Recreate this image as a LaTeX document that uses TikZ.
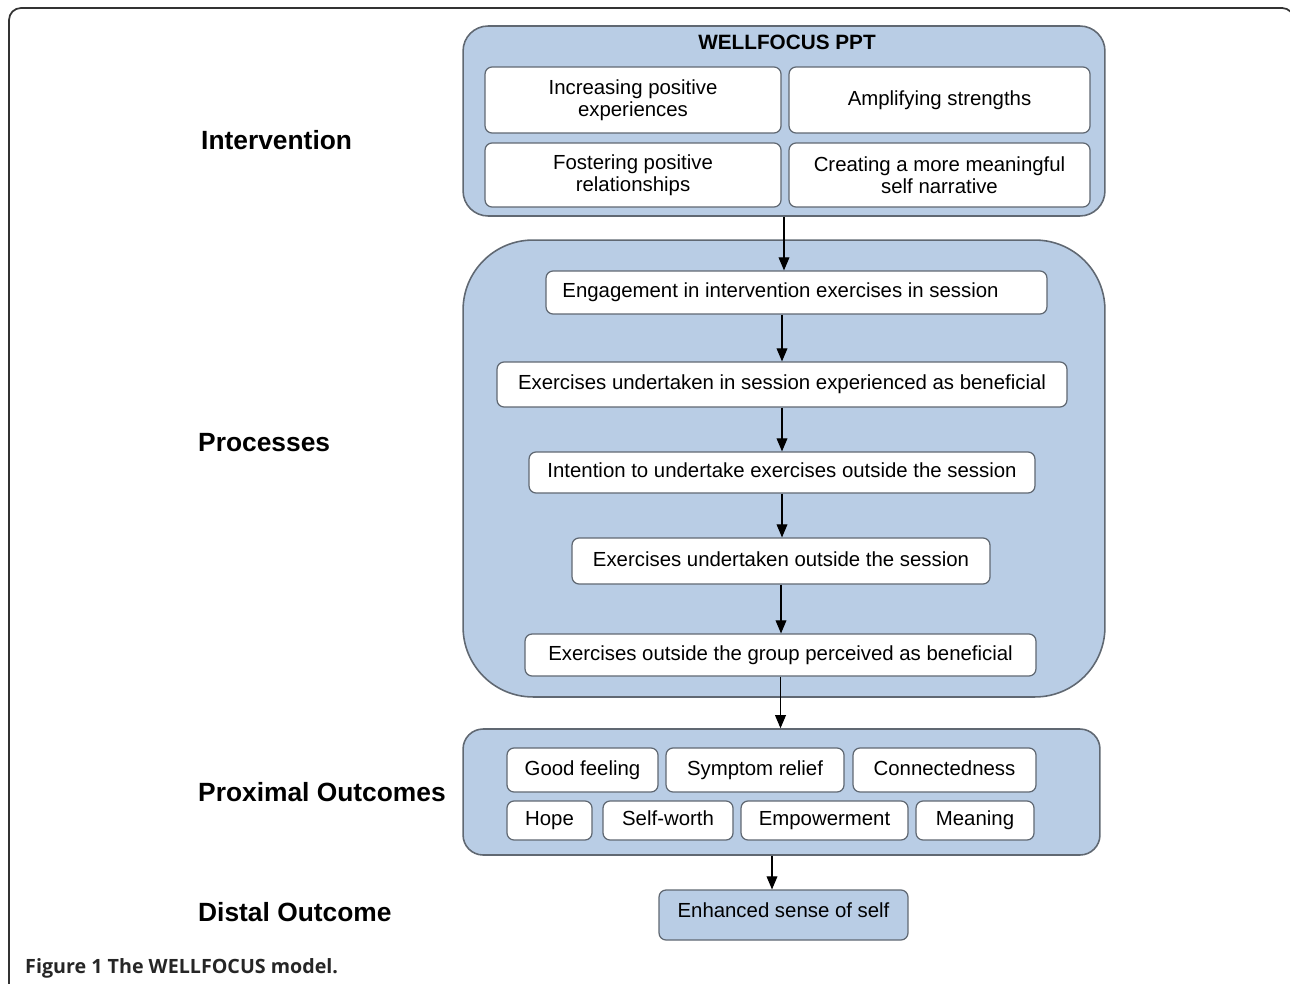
\documentclass[tikz,border=0pt]{standalone}
\usepackage{fontspec}
\setmainfont{Liberation Sans}
\newfontfamily\capfont{Open Sans}
\usetikzlibrary{shapes}
\usetikzlibrary{arrows}
\definecolor{grpblue}{RGB}{185,205,229}
\definecolor{edgegray}{RGB}{96,104,114}

\begin{document}
\begin{tikzpicture}[x=0.02cm,y=-0.02cm]
			\tikzstyle{grp}=[rectangle,draw=edgegray,fill=grpblue,line width=0.9pt]
			\tikzstyle{item}=[rectangle,rounded corners=0.14cm,draw=edgegray,fill=white,line width=0.7pt,align=center,inner sep=0pt,font=\fontsize{11.6}{12.5}\selectfont]
			\tikzstyle{one}=[item,text height=8.6pt,text depth=2.6pt]
			\tikzstyle{lbl}=[anchor=west,font=\bfseries\fontsize{15}{18}\selectfont]
			\tikzstyle{flow}=[-triangle 45,line width=0.7pt]
			
			\useasboundingbox (0,0) rectangle (1290,983);
			\draw[rounded corners=0.24cm,line width=1pt,draw=black!80] (9,8) rectangle (1294,1020);
			
			% row labels
			\node[lbl] (lint) at (195,140) {Intervention};
			\node[lbl] (lpro) at (192,443) {Processes};
			\node[lbl] (lprx) at (192,792) {Proximal Outcomes};
			\node[lbl] (ldis) at (192,912) {Distal Outcome};
			
			% intervention
			\node[grp,rounded corners=0.5cm,minimum width=12.84cm,minimum height=3.8cm] (intv) at (784,121) {};
			\node[font=\bfseries\fontsize{11.8}{14}\selectfont] (ttl) at (787,42) {WELLFOCUS PPT};
			\node[item,minimum width=5.92cm,minimum height=1.32cm] (incr) at (633,100) {Increasing positive\\experiences};
			\node[one,minimum width=6.02cm,minimum height=1.32cm] (ampl) at (939.5,100) {Amplifying strengths};
			\node[item,minimum width=5.92cm,minimum height=1.28cm] (fost) at (633,175) {Fostering positive\\relationships};
			\node[item,minimum width=6.02cm,minimum height=1.28cm] (crea) at (939.5,175) {Creating a more meaningful\\self narrative};
			
			% processes
			\node[grp,rounded corners=1.4cm,minimum width=12.84cm,minimum height=9.14cm] (proc) at (784,468.5) {};
			\node[one,minimum width=10.02cm,minimum height=0.86cm] (eng) at (796.5,292.5) {\hspace*{-0.64cm}Engagement in intervention exercises in session};
			\node[one,minimum width=11.4cm,minimum height=0.9cm] (bene) at (782,384.5) {Exercises undertaken in session experienced as beneficial};
			\node[one,minimum width=10.12cm,minimum height=0.82cm] (intn) at (782,472.5) {Intention to undertake exercises outside the session};
			\node[one,minimum width=8.36cm,minimum height=0.92cm] (outs) at (781,561) {Exercises undertaken outside the session};
			\node[one,minimum width=10.22cm,minimum height=0.84cm] (perc) at (780.5,655) {Exercises outside the group perceived as beneficial};
			
			% proximal outcomes
			\node[grp,rounded corners=0.4cm,minimum width=12.74cm,minimum height=2.52cm] (prox) at (781.5,792) {};
			\node[one,minimum width=3.02cm,minimum height=0.88cm] (good) at (582.5,770) {Good feeling};
			\node[one,minimum width=3.56cm,minimum height=0.88cm] (symp) at (755,770) {Symptom relief};
			\node[one,minimum width=3.66cm,minimum height=0.88cm] (conn) at (944.5,770) {Connectedness};
			\node[one,minimum width=1.7cm,minimum height=0.78cm] (hope) at (549.5,820.5) {Hope};
			\node[one,minimum width=2.6cm,minimum height=0.78cm] (wrth) at (668,820.5) {Self-worth};
			\node[one,minimum width=3.34cm,minimum height=0.78cm] (empo) at (824.5,820.5) {Empowerment};
			\node[one,minimum width=2.36cm,minimum height=0.78cm] (mean) at (975,820.5) {Meaning};
			
			% distal outcome
			\node[item,fill=grpblue,minimum width=4.98cm,minimum height=1cm] (dist) at (783.5,915) {\raisebox{0.2cm}{Enhanced sense of self}};
			
			\draw[flow] (intv.south) -- (intv.south |- eng.north);
			\draw[flow] (eng.south -| bene.north) -- (bene.north);
			\draw[flow] (bene.south) -- (bene.south |- intn.north);
			\draw[flow] (intn.south) -- (intn.south |- outs.north);
			\draw[flow] (outs.south) -- (outs.south |- perc.north);
			\draw[flow] (perc.south) -- (perc.south |- prox.north);
			\draw[flow] ([xshift=-0.19cm]prox.south) -- ([xshift=-0.19cm]prox.south |- dist.north);
			
			\node[anchor=west,font=\capfont\bfseries\fontsize{11.2}{13}\selectfont,text=black!85] (capt) at (19,968) {Figure 1 The WELLFOCUS model.};
\end{tikzpicture}
\end{document}
